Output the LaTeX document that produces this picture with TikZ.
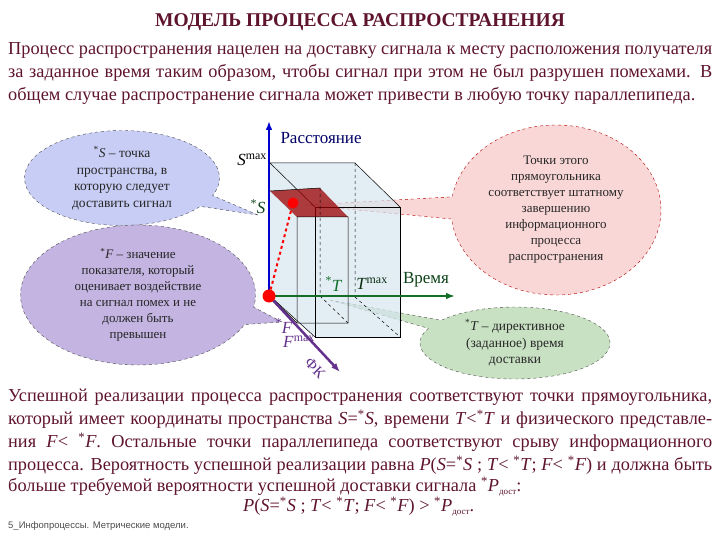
\documentclass[tikz,border=0pt]{standalone}
\usepackage{fontspec}
\setmainfont{Liberation Serif}
\newfontfamily\footfont{Liberation Sans}
\usetikzlibrary{arrows.meta,shapes.callouts,shapes.symbols}
\newcommand{\dost}{\raisebox{-3pt}{\fontsize{9}{10}\selectfont дост}}
\newcommand{\st}{\textsuperscript{*}}
\newcommand{\I}[1]{\textit{#1}}
\newcommand{\jl}[1]{\makebox[704pt][s]{#1}}
\definecolor{txt}{RGB}{95,20,45}
\definecolor{cblue}{RGB}{200,205,245}
\definecolor{cpurp}{RGB}{195,180,225}
\definecolor{cpink}{RGB}{250,215,215}
\definecolor{cgreen}{RGB}{200,225,195}
\definecolor{boxfill}{RGB}{215,230,240}
\definecolor{dgreen}{RGB}{20,110,40}
\definecolor{dpurp}{RGB}{100,50,140}
\begin{document}
\begin{tikzpicture}[x=1pt,y=-1pt,
  para/.style={anchor=west,text=txt,font=\fontsize{18.3}{20}\selectfont,inner sep=0},
  cloudtxt/.style={align=center,text=black!85,font=\fontsize{13.5}{16.5}\selectfont},
  callbox/.style={ellipse callout,draw=black!70,dashed,thin},
  lab/.style={font=\fontsize{17}{19}\selectfont,inner sep=1},
  edge/.style={black,line width=0.5pt}]
\useasboundingbox (0,0) rectangle (720,540);
\node[text=txt,font=\bfseries\fontsize{19.5}{21}\selectfont] (title) at (360,22) {МОДЕЛЬ ПРОЦЕССА РАСПРОСТРАНЕНИЯ};
\node[para] (p1) at (8,50) {\jl{Процесс распространения нацелен на доставку сигнала к месту расположения получателя}};
\node[para] (p2) at (8,73) {\jl{за заданное время таким образом, чтобы сигнал при этом не был разрушен помехами. В}};
\node[para] (p3) at (8,96) {общем случае распространение сигнала может привести в любую точку параллепипеда.};
% callouts
\node[callbox,fill=cblue,minimum width=195,minimum height=95,callout absolute pointer={(258,215)}] (cS) at (122,178) {};
\node[cloudtxt] (tS) at (122,178) {\st\I{S} – точка\\пространства, в\\которую следует\\доставить сигнал};
\node[callbox,fill=cpurp,minimum width=235,minimum height=140,callout absolute pointer={(282,322)}] (cF) at (138,295) {};
\node[cloudtxt,font=\fontsize{13}{16}\selectfont] (tF) at (138,295) {\st\I{F} – значение\\показателя, который\\оценивает воздействие\\на сигнал помех и не\\должен быть\\превышен};
\node[callbox,fill=cpink,draw=red!70!black,minimum width=210,minimum height=170,callout absolute pointer={(305,205)}] (cP) at (556,210) {};
\node[cloudtxt,font=\fontsize{13}{16}\selectfont] (tP) at (556,210) {Точки этого\\прямоугольника\\соответствует штатному\\завершению\\информационного\\процесса\\распространения};
\node[callbox,fill=cgreen,minimum width=190,minimum height=72,callout absolute pointer={(330,300)}] (cT) at (515,343) {};
\node[cloudtxt] (tT) at (515,343) {\st\I{T} – директивное\\(заданное) время\\доставки};
% box
\coordinate (O) at (269,296);
\fill[boxfill,opacity=0.7] (270,163)--(355,163)--(400,207)--(400,337)--(315,337)--(270,296)--cycle;
\draw[edge] (270,163)--(355,163)--(400,207) (270,163)--(315,207);
\draw[edge] (315,207) rectangle (400,337);
\draw[edge] (270,296)--(315,337);
\draw[edge,dashed] (355,163)--(355,297) (355,297)--(400,337);
\fill[red!60!black,opacity=0.75] (270,191)--(320,188)--(348,217)--(297,217)--cycle;
\draw[edge] (297,217) rectangle (348,323) (270,296)--(297,323);
\draw[edge,dashed] (320,188)--(320,296) (320,296)--(348,323);
\draw[edge] (270,191)--(320,188);
% axes
\draw[-{Latex[length=9pt]},line width=2.5pt,dgreen] (O) -- (455,296) coordinate (te);
\draw[-{Latex[length=9pt]},line width=2.5pt,dpurp] (O) -- (340,372) coordinate (fe);
\draw[-{Latex[length=9pt]},line width=2.5pt,blue!80!black] (O) -- (269,121) coordinate (se);
\node[circle,fill=red,inner sep=0,minimum size=11] (pt) at (293,203) {};
\node[circle,fill=red,inner sep=0,minimum size=13] (po) at (O) {};
\draw[red,dashed,line width=2pt] (po)--(pt);
% labels
\node[text=blue!40!black,font=\fontsize{17}{19}\selectfont,anchor=west] (lS) at (277,138) {Расстояние};
\node[lab] (smax) at (252,160) {\I{S}\textsuperscript{max}};
\node[lab,dgreen!60!black] (ss) at (258,207) {\st\I{S}};
\node[lab,dgreen] (st) at (334,284) {\st\I{T}};
\node[lab,dgreen!40!black] (tmax) at (372,284) {\I{T}\textsuperscript{max}};
\node[lab,dgreen!60!black] (lT) at (426,280) {Время};
\node[lab,dpurp] (sf) at (284,326) {\st\I{F}};
\node[lab,dpurp] (fmax) at (299,342) {\I{F}\textsuperscript{max}};
\node[lab,dpurp,rotate=-45,font=\fontsize{15}{17}\selectfont,inner sep=0] (lF) at (315,368) {ФК};
% bottom text
\node[para] (b1) at (8,397) {\jl{Успешной реализации процесса распространения соответствуют точки прямоугольника,}};
\node[para] (b2) at (8,419) {\jl{который имеет координаты пространства \I{S}=\st\I{S}, времени \I{T}<\st\I{T} и физического представле-}};
\node[para] (b3) at (8,442) {\jl{ния \I{F}< \st\I{F}. Остальные точки параллепипеда соответствуют срыву информационного}};
\node[para] (b4) at (8,465) {\jl{процесса. Вероятность успешной реализации равна \I{P}(\I{S}=\st\I{S} ; \I{T}< \st\I{T}; \I{F}< \st\I{F}) и должна быть}};
\node[para] (b5) at (8,487) {больше требуемой вероятности успешной доставки сигнала \st\I{P}\dost:};
\node[para] (b6) at (243,507) {\I{P}(\I{S}=\st\I{S} ; \I{T}< \st\I{T}; \I{F}< \st\I{F}) > \st\I{P}\dost .};
\node[anchor=west,inner sep=0,text=black!70,font=\footfont\fontsize{9.5}{11}\selectfont] (ft) at (8,526) {5\_Инфопроцессы. Метрические модели.};
\end{tikzpicture}
\end{document}
